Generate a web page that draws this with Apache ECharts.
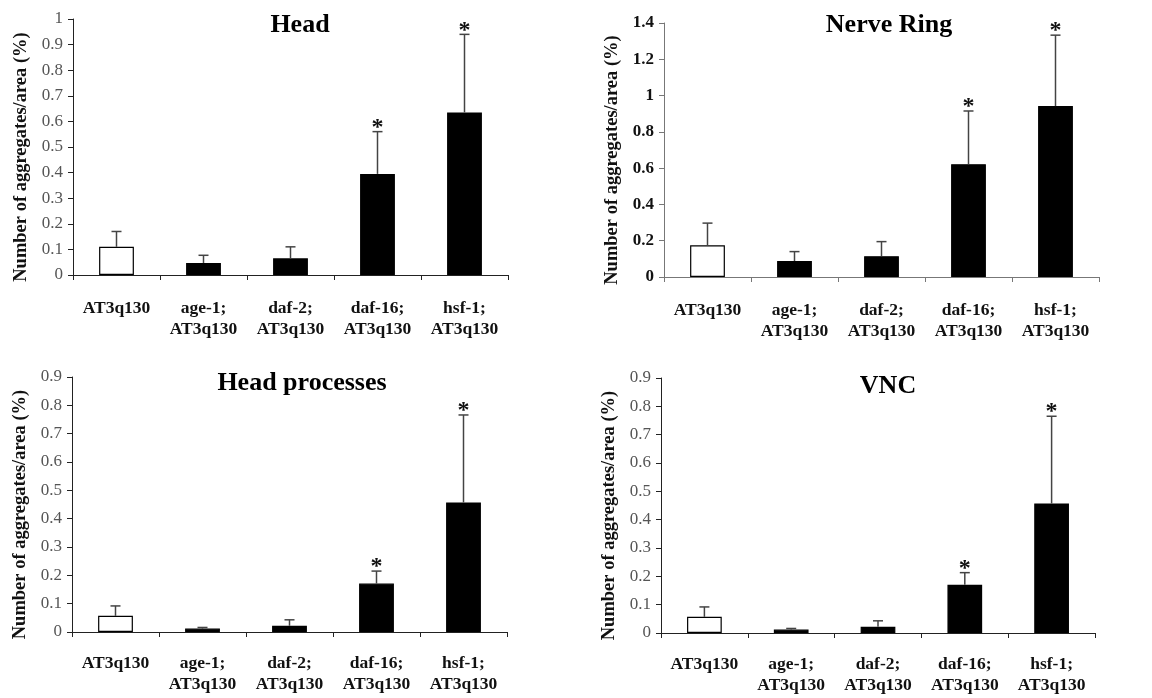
<html>
<head>
    <meta charset="utf-8">
    <title>Aggregates per area</title>
    <style>
        * { margin: 0; padding: 0; }
        body { background: #fff; }
        #chart { width: 1152px; height: 698px; }
    </style>
</head>
<body>
<div id="chart"></div>
<script src="https://cdn.jsdelivr.net/npm/echarts@6/dist/echarts.min.js"></script>
<script>
    // strains on the x axis
    const categories = ['AT3q130', 'age-1;\nAT3q130', 'daf-2;\nAT3q130', 'daf-16;\nAT3q130', 'hsf-1;\nAT3q130'];
    const sigMarks = ['', '', '', '*', '*'];

    // means and upper error (top of the whisker)
    const headMean = [0.11, 0.047, 0.065, 0.395, 0.635];
    const headTop = [0.17, 0.077, 0.11, 0.56, 0.94];

    const ringMean = [0.175, 0.088, 0.115, 0.622, 0.942];
    const ringTop = [0.297, 0.14, 0.195, 0.915, 1.333];

    const procMean = [0.057, 0.012, 0.022, 0.171, 0.457];
    const procTop = [0.092, 0.016, 0.043, 0.215, 0.766];

    const vncMean = [0.057, 0.012, 0.022, 0.17, 0.457];
    const vncTop = [0.092, 0.016, 0.043, 0.213, 0.765];

    const panels = [
        { title: 'Head', mean: headMean, top: headTop, max: 1, interval: 0.1,
          grid: { left: 73, top: 19, width: 435, height: 256 }, titlePos: [295, 7], boldTicks: false, axisColor: '#222', labelGap: 23 },
        { title: 'Nerve Ring', mean: ringMean, top: ringTop, max: 1.4, interval: 0.2,
          grid: { left: 664, top: 23, width: 435, height: 254 }, titlePos: [884, 7], boldTicks: true, axisColor: '#777', labelGap: 23 },
        { title: 'Head processes', mean: procMean, top: procTop, max: 0.9, interval: 0.1,
          grid: { left: 72, top: 377, width: 435, height: 255 }, titlePos: [297, 365], boldTicks: false, axisColor: '#222', labelGap: 21 },
        { title: 'VNC', mean: vncMean, top: vncTop, max: 0.9, interval: 0.1,
          grid: { left: 661, top: 378, width: 434, height: 255 }, titlePos: [883, 368], boldTicks: false, axisColor: '#222', labelGap: 21 }
    ];

    const serif = "'Liberation Serif', 'Times New Roman', serif";
    const yName = 'Number of aggregates/area (%)';

    var chart = echarts.init(document.getElementById('chart'), null, { renderer: 'canvas' });

    var option = {
        backgroundColor: '#fff',
        animation: false,
        title: [],
        grid: [],
        xAxis: [],
        yAxis: [],
        series: []
    };

    panels.forEach(function (p, i) {
        option.title.push({
            text: p.title,
            left: p.titlePos[0],
            top: p.titlePos[1],
            textAlign: 'center',
            textStyle: { fontFamily: serif, fontWeight: 'bold', fontSize: 26, color: '#000' }
        });
        option.grid.push(Object.assign({ containLabel: false }, p.grid));
        option.xAxis.push({
            type: 'category',
            gridIndex: i,
            data: categories,
            axisLine: { lineStyle: { color: p.axisColor, width: 1 } },
            axisTick: { show: true, length: 5, interval: 0, lineStyle: { color: p.axisColor } },
            axisLabel: {
                interval: 0, margin: p.labelGap,
                fontFamily: serif, fontWeight: 'bold', fontSize: 17.5, color: '#111', lineHeight: 21
            }
        });
        option.yAxis.push({
            type: 'value',
            gridIndex: i,
            min: 0,
            max: p.max,
            interval: p.interval,
            name: yName,
            nameLocation: 'middle',
            nameGap: 42,
            nameTextStyle: {
                fontFamily: serif, fontWeight: 'bold', fontSize: 18.5, color: '#111',
                padding: [0, 20, 0, 0]
            },
            axisLine: { show: true, lineStyle: { color: p.axisColor, width: 1 } },
            axisTick: { show: true, length: 5, lineStyle: { color: p.axisColor } },
            splitLine: { show: false },
            axisLabel: {
                margin: 10,
                fontFamily: serif,
                fontWeight: p.boldTicks ? 'bold' : 'normal',
                fontSize: 17,
                color: p.boldTicks ? '#111' : '#555'
            }
        });
        option.series.push({
            type: 'bar',
            xAxisIndex: i,
            yAxisIndex: i,
            barWidth: '40%',
            data: p.mean.map(function (v, k) {
                return {
                    value: v,
                    itemStyle: { color: k === 0 ? '#fff' : '#000', borderColor: '#000', borderWidth: 1.2 }
                };
            })
        });
        option.series.push({
            type: 'custom',
            xAxisIndex: i,
            yAxisIndex: i,
            z: 5,
            data: p.mean.map(function (v, k) { return [k, v, p.top[k]]; }),
            renderItem: function (params, api) {
                var base = api.coord([api.value(0), api.value(1)]);
                var top = api.coord([api.value(0), api.value(2)]);
                var half = 5;
                var style = { stroke: '#444', lineWidth: 1.5 };
                var children = [
                    { type: 'line', shape: { x1: base[0], y1: base[1], x2: top[0], y2: top[1] }, style: style },
                    { type: 'line', shape: { x1: top[0] - half, y1: top[1], x2: top[0] + half, y2: top[1] }, style: style }
                ];
                var mark = sigMarks[params.dataIndex];
                if (mark) {
                    children.push({
                        type: 'text',
                        x: top[0],
                        y: top[1] + 8,
                        style: {
                            text: mark, fill: '#111', align: 'center', verticalAlign: 'bottom',
                            font: 'bold 24px ' + serif
                        }
                    });
                }
                return { type: 'group', children: children };
            }
        });
    });

    chart.setOption(option);
    window.addEventListener('resize', chart.resize);
</script>
</body>
</html>
